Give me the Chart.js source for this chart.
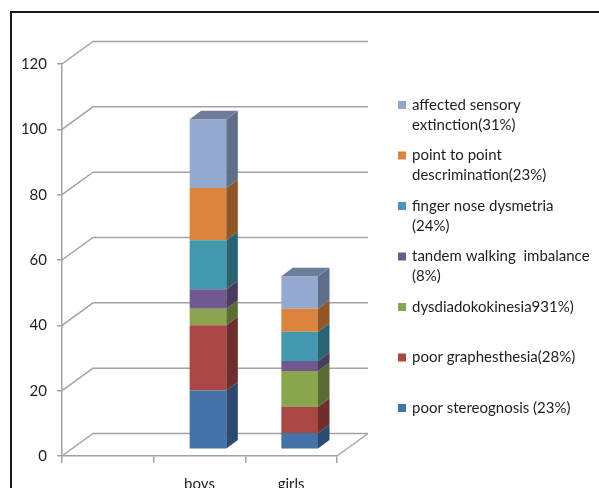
<!DOCTYPE html>
<html>
<head>
<meta charset="utf-8">
<script src="https://cdn.jsdelivr.net/npm/chart.js@4/dist/chart.umd.min.js"></script>
<style>
  html, body { margin: 0; padding: 0; background: #ffffff; overflow: hidden; }
  #wrap { position: relative; width: 599px; height: 488px; }
</style>
</head>
<body>
<div id="wrap"><canvas id="c" width="599" height="488"></canvas></div>
<script>
// ---- data ----
const categories = ['', 'boys', 'girls'];

const poorStereognosis     = [null, 18, 5];
const poorGraphesthesia    = [null, 20, 8];
const dysdiadokokinesia    = [null, 5, 11];
const tandemWalking        = [null, 6, 3];
const fingerNoseDysmetria  = [null, 15, 9];
const pointToPoint         = [null, 16, 7];
const affectedSensory      = [null, 21, 10];

const legendLabels = [
  ['poor stereognosis (23%)'],
  ['poor graphesthesia(28%)'],
  ['dysdiadokokinesia931%)'],
  ['tandem walking  imbalance', '(8%)'],
  ['finger nose dysmetria', '(24%)'],
  ['point to point', 'descrimination(23%)'],
  ['affected sensory', 'extinction(31%)']
];

const yTicks = { min: 0, max: 120, step: 20 };

// ---- styling ----
const FONT = 'Lato, "Open Sans", sans-serif';
const TEXT = '#1f1f1f';
const GRID = '#a3a3a3';
const faceColors = ['#4472a8', '#aa4643', '#89a54e', '#71588f', '#4198af', '#db843d', '#93a9cf'];
const sideColors = ['#2c4a6f', '#6f2d2b', '#5a6c33', '#4a3a5e', '#2a6473', '#8f5628', '#5f6f8a'];
const topColor   = '#6c7d9c';

// oblique projection of the 3D box
const WALL_DX = 31, WALL_DY = 22.5;   // full depth of the plot box
const BAR_DX = 8.5, BAR_DY = 6.7;     // front face of the columns
const COL_DX = 11.5, COL_DY = 8.5;    // thickness of the columns

const seriesData = [poorStereognosis, poorGraphesthesia, dysdiadokokinesia, tandemWalking,
                    fingerNoseDysmetria, pointToPoint, affectedSensory];

const datasets = seriesData.map((d, i) => ({
  label: legendLabels[i].join(' '),
  data: d,
  backgroundColor: faceColors[i],
  borderWidth: 0,
  barPercentage: 0.4,
  categoryPercentage: 1.0
}));

function poly(ctx, pts, fill) {
  ctx.beginPath();
  ctx.moveTo(pts[0][0], pts[0][1]);
  for (let k = 1; k < pts.length; k++) ctx.lineTo(pts[k][0], pts[k][1]);
  ctx.closePath();
  ctx.fillStyle = fill;
  ctx.fill();
}

const box3d = {
  id: 'box3d',
  beforeDraw(chart) {
    const ctx = chart.ctx;
    ctx.save();
    // outer frame of the chart object
    ctx.strokeStyle = '#1a1a1a';
    ctx.lineWidth = 2;
    ctx.beginPath();
    ctx.moveTo(11, 488);
    ctx.lineTo(11, 12);
    ctx.lineTo(599, 12);
    ctx.stroke();
    ctx.restore();
  },
  beforeDatasetsDraw(chart) {
    const ctx = chart.ctx;
    const { left, right, bottom } = chart.chartArea;
    const y = chart.scales.y;
    ctx.save();
    ctx.strokeStyle = GRID;
    ctx.lineWidth = 1.5;
    // back wall gridlines with their slanted side-wall segment
    for (let v = yTicks.min; v <= yTicks.max; v += yTicks.step) {
      const py = y.getPixelForValue(v);
      ctx.beginPath();
      ctx.moveTo(left, py);
      ctx.lineTo(left + WALL_DX, py - WALL_DY);
      ctx.lineTo(right + WALL_DX, py - WALL_DY);
      ctx.stroke();
    }
    // right edge of the floor
    ctx.beginPath();
    ctx.moveTo(right, bottom);
    ctx.lineTo(right + WALL_DX, bottom - WALL_DY);
    ctx.stroke();
    ctx.restore();

    // columns stand in the middle of the depth
    ctx.save();
    ctx.translate(BAR_DX, -BAR_DY);
  },
  afterDatasetsDraw(chart) {
    const ctx = chart.ctx;
    const metas = chart.data.datasets.map((_, i) => chart.getDatasetMeta(i));
    const topIndex = {};
    metas.forEach((meta, di) => {
      meta.data.forEach((el, j) => {
        const v = chart.data.datasets[di].data[j];
        if (v == null || v === 0) return;
        const xl = el.x - el.width / 2, xr = el.x + el.width / 2;
        poly(ctx, [[xr, el.y], [xr + COL_DX, el.y - COL_DY], [xr + COL_DX, el.base - COL_DY], [xr, el.base]], sideColors[di]);
        topIndex[j] = di;
      });
    });
    Object.keys(topIndex).forEach(j => {
      const el = metas[topIndex[j]].data[j];
      const xl = el.x - el.width / 2, xr = el.x + el.width / 2;
      poly(ctx, [[xl, el.y], [xl + COL_DX, el.y - COL_DY], [xr + COL_DX, el.y - COL_DY], [xr, el.y]], topColor);
    });
    ctx.restore();
  },
  afterDraw(chart) {
    const ctx = chart.ctx;
    ctx.save();
    ctx.font = '15px ' + FONT;
    ctx.textBaseline = 'middle';
    ctx.textAlign = 'left';
    const n = legendLabels.length;
    for (let r = 0; r < n; r++) {
      const di = n - 1 - r;
      const y0 = 105 + r * 50.5;
      ctx.fillStyle = faceColors[di];
      ctx.fillRect(398, y0 - 4, 8, 8);
      ctx.fillStyle = TEXT;
      legendLabels[di].forEach((line, k) => ctx.fillText(line, 412, y0 + k * 20));
    }
    ctx.restore();
  }
};

new Chart(document.getElementById('c'), {
  type: 'bar',
  data: { labels: categories, datasets },
  plugins: [box3d],
  options: {
    responsive: false,
    animation: false,
    devicePixelRatio: 1,
    layout: { padding: { left: 0, right: 262, top: 64, bottom: 0 } },
    plugins: { legend: { display: false }, tooltip: { enabled: false } },
    scales: {
      x: {
        stacked: true,
        offset: true,
        grid: { offset: true, drawOnChartArea: false, drawTicks: true, tickLength: 7, color: GRID, lineWidth: 1.5 },
        border: { color: GRID, width: 1.5 },
        ticks: { font: { family: FONT, size: 15 }, color: TEXT, padding: 12, maxRotation: 0 },
        afterFit(s) { s.height = 32; }
      },
      y: {
        stacked: true,
        min: yTicks.min,
        max: yTicks.max,
        grid: { drawOnChartArea: false, drawTicks: true, tickLength: 5, color: GRID, lineWidth: 1.5 },
        border: { color: GRID, width: 1.5 },
        ticks: { stepSize: yTicks.step, font: { family: FONT, size: 15 }, color: TEXT, padding: 10 },
        afterFit(s) { s.width = 62; }
      }
    }
  }
});
</script>
</body>
</html>
